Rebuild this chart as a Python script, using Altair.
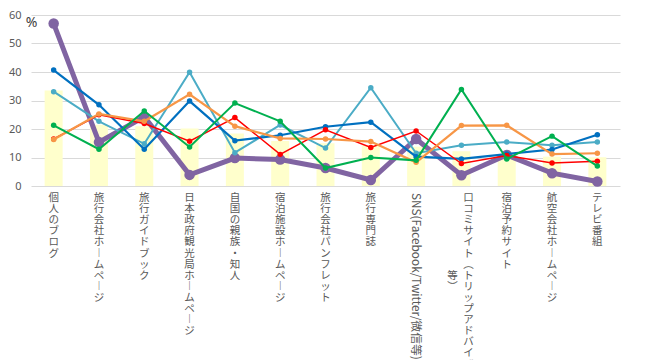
import altair as alt
import pandas as pd

# ---- data ----
categories = [
    "個人のブログ",
    "旅行会社ホームページ",
    "旅行ガイドブック",
    "日本政府観光局ホームページ",
    "自国の親族・知人",
    "宿泊施設ホームページ",
    "旅行会社パンフレット",
    "旅行専門誌",
    "SNS(Facebook/Twitter/微信等)",
    "口コミサイト(トリップアドバイザー等)",
    "宿泊予約サイト",
    "航空会社ホームページ",
    "テレビ番組",
]

total = [33.5, 21.5, 21.0, 20.2, 18.4, 15.8, 15.0, 14.3, 13.8, 12.2, 10.8, 10.3, 10.1]

series_names = ["系列1", "系列2", "系列3", "系列4", "系列5", "系列6"]
series_colors = ["#4BACC6", "#0070C0", "#FF0000", "#F79646", "#00B050", "#8064A2"]
s1 = [33.1, 22.7, 14.8, 39.9, 11.7, 21.4, 13.3, 34.5, 11.5, 14.3, 15.4, 14.3, 15.4]   # light blue
s2 = [40.7, 28.5, 12.9, 29.8, 15.9, 17.8, 20.8, 22.4, 10.3, 9.5, 11.2, 12.8, 18.0]    # blue
s3 = [16.5, 25.0, 21.9, 15.7, 24.0, 11.1, 19.7, 13.5, 19.3, 7.9, 10.7, 8.1, 8.7]      # red
s4 = [16.3, 25.3, 22.7, 32.2, 21.0, 16.7, 16.5, 15.6, 8.3, 21.2, 21.3, 11.2, 11.5]    # orange
s5 = [21.3, 12.9, 26.3, 13.7, 29.1, 22.7, 6.3, 10.0, 9.0, 33.9, 9.5, 17.5, 7.0]       # green
s6 = [57.0, 15.4, 24.3, 3.9, 9.8, 9.3, 6.3, 2.1, 16.5, 3.8, 10.9, 4.5, 1.6]           # purple
series_values = [s1, s2, s3, s4, s5, s6]
series_widths = [2, 2.2, 1.5, 2.2, 2, 5]
series_sizes = [30, 30, 30, 30, 30, 110]

W, H = 589, 171

rows = []
for name, vals in zip(series_names, series_values):
    for c, v in zip(categories, vals):
        rows.append({"category": c, "series": name, "value": v})
df_lines = pd.DataFrame(rows)
df_bar = pd.DataFrame({"category": categories, "value": total})

# vertical-writing forms for the category labels
VERT = {"ー": "︱", "(": "︵", ")": "︶"}


def vchars(s):
    return [VERT.get(ch, ch) for ch in s]


label_recs = []
for c in categories:
    if c.startswith("SNS"):
        label_recs.append({"category": c, "kind": "rot", "t": c})
    elif c.startswith("口コミ"):
        label_recs.append({"category": c, "kind": "wrap1", "t": vchars(c[:-2])})
        label_recs.append({"category": c, "kind": "wrap2", "t": vchars(c[-2:])})
    else:
        label_recs.append({"category": c, "kind": "up", "t": vchars(c)})
labels = alt.Data(values=label_recs)

x = alt.X("category:N", sort=categories,
          scale=alt.Scale(paddingInner=0, paddingOuter=0), axis=None)
y = alt.Y("value:Q", scale=alt.Scale(domain=[0, 60]),
          axis=alt.Axis(values=[0, 10, 20, 30, 40, 50, 60], domain=False, ticks=False,
                        gridColor="#D9D9D9", gridWidth=1,
                        labelColor="#595959", labelFontSize=11, labelFont="Noto Sans",
                        labelPadding=10,
                        title="%", titleAngle=0, titleX=0, titleY=7, titleAlign="center",
                        titleBaseline="middle", titleFontSize=14, titleFontWeight="normal",
                        titleColor="#404040", titleFont="Noto Sans"))

bars = alt.Chart(df_bar).mark_bar(size=18, color="#FFFFCC").encode(x=x, y=y)

layers = [bars]
# purple first (underneath), then the others in order
order = [5, 0, 1, 2, 3, 4]
for i in order:
    name = series_names[i]
    base = alt.Chart(df_lines).transform_filter(alt.datum.series == name)
    layers.append(base.mark_line(color=series_colors[i], strokeWidth=series_widths[i]).encode(x=x, y=y))
    layers.append(base.mark_circle(color=series_colors[i], opacity=1, size=series_sizes[i]).encode(x=x, y=y))

txt_common = dict(fontSize=10.5, lineHeight=11.1, color="#595959", font="Noto Sans CJK JP")
lab_up = alt.Chart(labels).mark_text(align="center", baseline="top", **txt_common).encode(
    x=x, y=alt.value(H + 7), text="t:N").transform_filter("datum.kind == 'up'")
lab_w1 = alt.Chart(labels).mark_text(align="center", baseline="top", dx=7, **txt_common).encode(
    x=x, y=alt.value(H + 7), text="t:N").transform_filter("datum.kind == 'wrap1'")
lab_w2 = alt.Chart(labels).mark_text(align="center", baseline="top", dx=-9, **txt_common).encode(
    x=x, y=alt.value(H + 85), text="t:N").transform_filter("datum.kind == 'wrap2'")
lab_rot = alt.Chart(labels).mark_text(align="left", baseline="middle", angle=90,
                                      fontSize=11.8, color="#595959", font="Noto Sans CJK JP").encode(
    x=x, y=alt.value(H + 7), text="t:N").transform_filter("datum.kind == 'rot'")

layers += [lab_up, lab_w1, lab_w2, lab_rot]

chart = alt.layer(*layers).properties(
    width=W, height=H,
    autosize=alt.AutoSizeParams(type="none"),
    padding={"left": 23, "top": 7, "right": 30, "bottom": 174},
    background="white",
).configure_view(stroke=None)

chart.save("out.html", embed_options={"renderer": "svg", "actions": False})
